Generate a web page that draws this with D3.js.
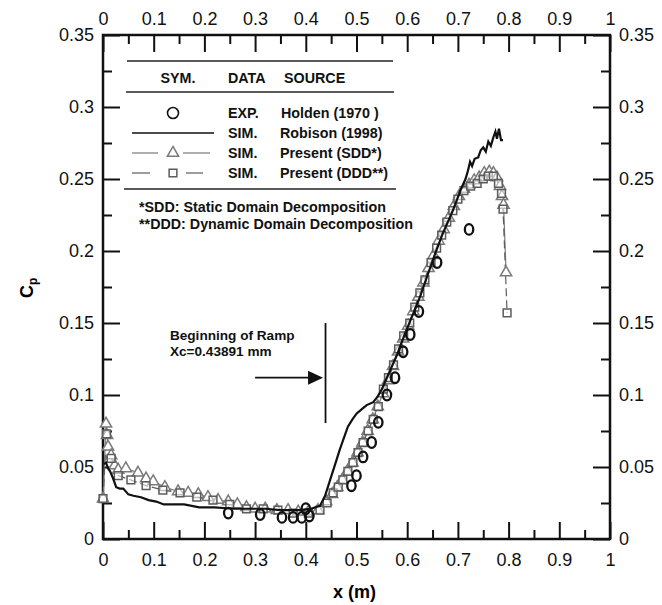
<!DOCTYPE html>
<html>
<head>
<meta charset="utf-8">
<script src="https://cdn.jsdelivr.net/npm/d3@7"></script>
<style>
  body { margin: 0; background: #fff; }
  svg { display: block; font-family: "Liberation Sans", Arial, Helvetica, sans-serif; }
  .axis text { font-size: 18px; fill: #111; }
  .axis line { stroke: #111; stroke-width: 2; }
  .legend-text { font-size: 14.3px; font-weight: bold; fill: #111; }
</style>
</head>
<body>
<div class="chart"></div>
<script>

// ---- data ----
var xTicks = [0, 0.1, 0.2, 0.3, 0.4, 0.5, 0.6, 0.7, 0.8, 0.9, 1];
var xMinorTicks = [0.05, 0.15, 0.25, 0.35, 0.45, 0.55, 0.65, 0.75, 0.85, 0.95];
var yTicks = [0, 0.05, 0.1, 0.15, 0.2, 0.25, 0.3, 0.35];
var yMinorTicks = [0.025, 0.075, 0.125, 0.175, 0.225, 0.275, 0.325];

// EXP. Holden (1970)
var holdenX  = [0.247, 0.310, 0.353, 0.375, 0.392, 0.400, 0.407, 0.490, 0.500, 0.513, 0.530, 0.543, 0.560, 0.576, 0.592, 0.606, 0.623, 0.659, 0.722];
var holdenCp = [0.018, 0.017, 0.015, 0.015, 0.015, 0.021, 0.016, 0.037, 0.044, 0.057, 0.067, 0.081, 0.100, 0.112, 0.130, 0.142, 0.158, 0.192, 0.215];

// SIM. Robison (1998)
var robisonX  = [0.002, 0.006, 0.010, 0.014, 0.020, 0.026, 0.033, 0.040, 0.050, 0.060, 0.075, 0.090, 0.105, 0.120, 0.140, 0.160, 0.190, 0.220, 0.257, 0.290, 0.320, 0.350, 0.390, 0.410, 0.428, 0.438, 0.448, 0.458, 0.467, 0.475, 0.483, 0.492, 0.500, 0.510, 0.520, 0.533, 0.542, 0.550, 0.565, 0.580, 0.595, 0.610, 0.625, 0.640, 0.655, 0.670, 0.690, 0.705, 0.715, 0.720, 0.724, 0.728, 0.733, 0.740, 0.745, 0.750, 0.755, 0.760, 0.765, 0.770, 0.774, 0.777, 0.781, 0.785, 0.789];
var robisonCp = [0.052, 0.053, 0.049, 0.047, 0.042, 0.036, 0.035, 0.035, 0.031, 0.030, 0.029, 0.027, 0.026, 0.024, 0.024, 0.024, 0.022, 0.022, 0.021, 0.021, 0.021, 0.020, 0.020, 0.021, 0.023, 0.030, 0.041, 0.052, 0.062, 0.070, 0.078, 0.083, 0.087, 0.090, 0.093, 0.095, 0.099, 0.104, 0.116, 0.128, 0.142, 0.155, 0.168, 0.183, 0.198, 0.212, 0.228, 0.242, 0.250, 0.256, 0.262, 0.259, 0.264, 0.265, 0.270, 0.272, 0.269, 0.276, 0.273, 0.279, 0.283, 0.278, 0.285, 0.277, 0.277];

// SIM. Present (SDD*)
var sddX  = [0.000, 0.006, 0.008, 0.010, 0.016, 0.023, 0.030, 0.045, 0.069, 0.085, 0.099, 0.122, 0.148, 0.168, 0.188, 0.207, 0.227, 0.247, 0.265, 0.283, 0.300, 0.320, 0.343, 0.365, 0.385, 0.405, 0.424, 0.440, 0.452, 0.462, 0.472, 0.482, 0.492, 0.502, 0.512, 0.522, 0.532, 0.542, 0.552, 0.562, 0.572, 0.582, 0.592, 0.602, 0.612, 0.622, 0.632, 0.642, 0.652, 0.662, 0.672, 0.682, 0.692, 0.702, 0.712, 0.722, 0.732, 0.742, 0.752, 0.762, 0.770, 0.777, 0.783, 0.787, 0.790, 0.795];
var sddCp = [0.028, 0.080, 0.072, 0.064, 0.058, 0.051, 0.048, 0.049, 0.046, 0.042, 0.040, 0.036, 0.033, 0.032, 0.031, 0.029, 0.027, 0.026, 0.024, 0.022, 0.021, 0.021, 0.020, 0.020, 0.019, 0.019, 0.020, 0.026, 0.031, 0.036, 0.041, 0.047, 0.053, 0.060, 0.067, 0.075, 0.083, 0.092, 0.101, 0.110, 0.120, 0.130, 0.139, 0.148, 0.158, 0.168, 0.178, 0.188, 0.197, 0.207, 0.215, 0.223, 0.231, 0.238, 0.243, 0.246, 0.249, 0.251, 0.254, 0.255, 0.254, 0.251, 0.245, 0.238, 0.232, 0.185];

// SIM. Present (DDD**)
var dddX  = [0.000, 0.007, 0.016, 0.030, 0.055, 0.085, 0.118, 0.152, 0.185, 0.217, 0.250, 0.283, 0.316, 0.345, 0.375, 0.405, 0.428, 0.442, 0.454, 0.464, 0.473, 0.483, 0.493, 0.503, 0.513, 0.523, 0.533, 0.543, 0.553, 0.563, 0.573, 0.583, 0.593, 0.605, 0.615, 0.625, 0.635, 0.647, 0.658, 0.668, 0.678, 0.690, 0.700, 0.712, 0.725, 0.738, 0.750, 0.760, 0.770, 0.780, 0.786, 0.789, 0.797];
var dddCp = [0.028, 0.073, 0.056, 0.044, 0.041, 0.037, 0.034, 0.032, 0.029, 0.027, 0.024, 0.021, 0.021, 0.020, 0.018, 0.018, 0.020, 0.025, 0.032, 0.036, 0.041, 0.047, 0.053, 0.060, 0.067, 0.075, 0.083, 0.092, 0.104, 0.112, 0.121, 0.132, 0.141, 0.150, 0.161, 0.171, 0.180, 0.192, 0.202, 0.211, 0.220, 0.228, 0.236, 0.242, 0.245, 0.247, 0.250, 0.252, 0.252, 0.247, 0.240, 0.229, 0.157];

var rampX = 0.43891;

function pairs(xs, ys) {
    return xs.map(function(x, i) { return { x: x, y: ys[i] }; });
}


// ---- chart ----
var margin = { top: 35, right: 52, bottom: 66, left: 103 };
var width = 662 - margin.left - margin.right;
var height = 605 - margin.top - margin.bottom;

var svgRoot = d3.select(".chart").append("svg")
    .attr("width", 662)
    .attr("height", 605);

var svg = svgRoot.append("g")
    .attr("transform", "translate(" + margin.left + "," + margin.top + ")");

var x = d3.scaleLinear().domain([0, 1]).range([0, width]);
var y = d3.scaleLinear().domain([0, 0.35]).range([height, 0]);

var fmt = function(d) { return String(+d.toFixed(3)); };

var sddColor = "#7a7a7a";
var dddColor = "#5c5c5c";

// axes: major ticks with labels, minor ticks without, all pointing inward
function drawAxis(axisFn, scale, ticks, minor, transform, pad) {
    var g = svg.append("g").attr("class", "axis").attr("transform", transform);
    g.call(axisFn(scale).tickValues(minor).tickSize(-9).tickFormat(""));
    var g2 = svg.append("g").attr("class", "axis").attr("transform", transform);
    g2.call(axisFn(scale).tickValues(ticks).tickSize(-17).tickPadding(pad).tickFormat(fmt));
    g.select(".domain").remove();
    g2.select(".domain").remove();
    g.attr("font-size", null).attr("font-family", null);
    g2.attr("font-size", null).attr("font-family", null);
}

drawAxis(d3.axisBottom, x, xTicks, xMinorTicks, "translate(0," + height + ")", 14);
drawAxis(d3.axisTop, x, xTicks, xMinorTicks, "translate(0,0)", 10);
drawAxis(d3.axisLeft, y, yTicks, yMinorTicks, "translate(0,0)", 9);
drawAxis(d3.axisRight, y, yTicks, yMinorTicks, "translate(" + width + ",0)", 9);

svg.append("rect")
    .attr("width", width)
    .attr("height", height)
    .attr("fill", "none")
    .attr("stroke", "#111")
    .attr("stroke-width", 2.5);

// axis titles
svgRoot.append("text")
    .attr("x", margin.left + width / 2 - 2)
    .attr("y", 598)
    .attr("text-anchor", "middle")
    .attr("font-size", 18)
    .attr("font-weight", "bold")
    .text("x (m)");

var cp = svgRoot.append("text")
    .attr("transform", "translate(33,298) rotate(-90)")
    .attr("font-size", 18)
    .attr("font-weight", "bold");
cp.append("tspan").text("C");
cp.append("tspan").attr("font-size", 12).attr("dy", 4).text("p");

// series
var line = d3.line()
    .x(function(d) { return x(d.x); })
    .y(function(d) { return y(d.y); });

var sdd = pairs(sddX, sddCp);
var ddd = pairs(dddX, dddCp);
var robison = pairs(robisonX, robisonCp);
var holden = pairs(holdenX, holdenCp);

svg.append("path")
    .datum(sdd)
    .attr("d", line)
    .attr("fill", "none")
    .attr("stroke", sddColor)
    .attr("stroke-width", 1.2);

svg.append("path")
    .datum(ddd)
    .attr("d", line)
    .attr("fill", "none")
    .attr("stroke", dddColor)
    .attr("stroke-width", 1.2)
    .attr("stroke-dasharray", "8,4");

var triangle = d3.symbol().type(d3.symbolTriangle).size(55);
var square = d3.symbol().type(d3.symbolSquare).size(60);

svg.selectAll(".tri")
    .data(sdd)
    .enter()
    .append("path")
    .attr("class", "tri")
    .attr("d", triangle)
    .attr("transform", function(d) { return "translate(" + x(d.x) + "," + y(d.y) + ")"; })
    .attr("fill", "#fff")
    .attr("stroke", sddColor)
    .attr("stroke-width", 1.5);

svg.selectAll(".sq")
    .data(ddd)
    .enter()
    .append("path")
    .attr("class", "sq")
    .attr("d", square)
    .attr("transform", function(d) { return "translate(" + x(d.x) + "," + y(d.y) + ")"; })
    .attr("fill", "#fff")
    .attr("fill-opacity", 0.5)
    .attr("stroke", dddColor)
    .attr("stroke-width", 1.5);

svg.append("path")
    .datum(robison)
    .attr("d", line)
    .attr("fill", "none")
    .attr("stroke", "#111")
    .attr("stroke-width", 2.2);

svg.selectAll(".exp")
    .data(holden)
    .enter()
    .append("ellipse")
    .attr("class", "exp")
    .attr("cx", function(d) { return x(d.x); })
    .attr("cy", function(d) { return y(d.y); })
    .attr("rx", 4.2)
    .attr("ry", 5.3)
    .attr("fill", "none")
    .attr("stroke", "#111")
    .attr("stroke-width", 2.3);

// ramp annotation
svg.append("line")
    .attr("x1", x(rampX)).attr("x2", x(rampX))
    .attr("y1", y(0.150)).attr("y2", y(0.0805))
    .attr("stroke", "#111")
    .attr("stroke-width", 1.8);

svg.append("line")
    .attr("x1", x(0.30)).attr("x2", x(0.408))
    .attr("y1", y(0.112)).attr("y2", y(0.112))
    .attr("stroke", "#111")
    .attr("stroke-width", 1.8);

svg.append("path")
    .attr("d", "M" + x(0.434) + "," + y(0.112) + " l-15,-7 l0,14 z")
    .attr("fill", "#111");

svg.append("text")
    .attr("class", "legend-text")
    .attr("x", x(0.132)).attr("y", y(0.138))
    .style("font-size", "13.6px")
    .text("Beginning of Ramp");

svg.append("text")
    .attr("class", "legend-text")
    .attr("x", x(0.132)).attr("y", y(0.127))
    .style("font-size", "13.6px")
    .text("Xc=0.43891 mm");

// legend box (table style)
var legend = svgRoot.append("g").attr("class", "legend");

legend.append("line").attr("x1", 127).attr("x2", 393).attr("y1", 61).attr("y2", 61)
    .attr("stroke", "#222").attr("stroke-width", 1.5);
legend.append("line").attr("x1", 126).attr("x2", 394).attr("y1", 92).attr("y2", 92)
    .attr("stroke", "#222").attr("stroke-width", 1.5);
legend.append("line").attr("x1", 124).attr("x2", 396).attr("y1", 189).attr("y2", 189)
    .attr("stroke", "#222").attr("stroke-width", 1.5);

legend.append("text").attr("class", "legend-text").attr("x", 178).attr("y", 83)
    .attr("text-anchor", "middle").text("SYM.");
legend.append("text").attr("class", "legend-text").attr("x", 228).attr("y", 83).text("DATA");
legend.append("text").attr("class", "legend-text").attr("x", 284).attr("y", 83).text("SOURCE");

var rows = [
    { y: 113, data: "EXP.", source: "Holden (1970 )" },
    { y: 133, data: "SIM.", source: "Robison (1998)" },
    { y: 153, data: "SIM.", source: "Present (SDD*)" },
    { y: 173, data: "SIM.", source: "Present (DDD**)" }
];

legend.selectAll(".row-data")
    .data(rows)
    .enter()
    .append("text")
    .attr("class", "legend-text")
    .attr("x", 228)
    .attr("y", function(d) { return d.y + 5; })
    .text(function(d) { return d.data; });

legend.selectAll(".row-src")
    .data(rows)
    .enter()
    .append("text")
    .attr("class", "legend-text")
    .attr("x", function(d, i) { return i === 0 ? 281 : 280; })
    .attr("y", function(d) { return d.y + 5; })
    .text(function(d) { return d.source; });

// legend symbols
legend.append("circle").attr("cx", 173).attr("cy", 113).attr("r", 5.5)
    .attr("fill", "none").attr("stroke", "#111").attr("stroke-width", 1.6);

legend.append("line").attr("x1", 132).attr("x2", 214).attr("y1", 133).attr("y2", 133)
    .attr("stroke", "#111").attr("stroke-width", 1.6);

legend.append("line").attr("x1", 132).attr("x2", 158).attr("y1", 153).attr("y2", 153)
    .attr("stroke", sddColor).attr("stroke-width", 1.2);
legend.append("line").attr("x1", 183).attr("x2", 210).attr("y1", 153).attr("y2", 153)
    .attr("stroke", sddColor).attr("stroke-width", 1.2);
legend.append("path").attr("d", triangle)
    .attr("transform", "translate(173,153)")
    .attr("fill", "#fff").attr("stroke", sddColor).attr("stroke-width", 1.5);

legend.append("line").attr("x1", 132).attr("x2", 150).attr("y1", 173).attr("y2", 173)
    .attr("stroke", dddColor).attr("stroke-width", 1.2);
legend.append("line").attr("x1", 186).attr("x2", 203).attr("y1", 173).attr("y2", 173)
    .attr("stroke", dddColor).attr("stroke-width", 1.2);
legend.append("path").attr("d", square)
    .attr("transform", "translate(173,173)")
    .attr("fill", "#fff").attr("stroke", dddColor).attr("stroke-width", 1.5);

legend.append("text").attr("class", "legend-text").attr("x", 139).attr("y", 212)
    .text("*SDD: Static Domain Decomposition");
legend.append("text").attr("class", "legend-text").attr("x", 139).attr("y", 229)
    .text("**DDD: Dynamic Domain Decomposition");

</script>
</body>
</html>
